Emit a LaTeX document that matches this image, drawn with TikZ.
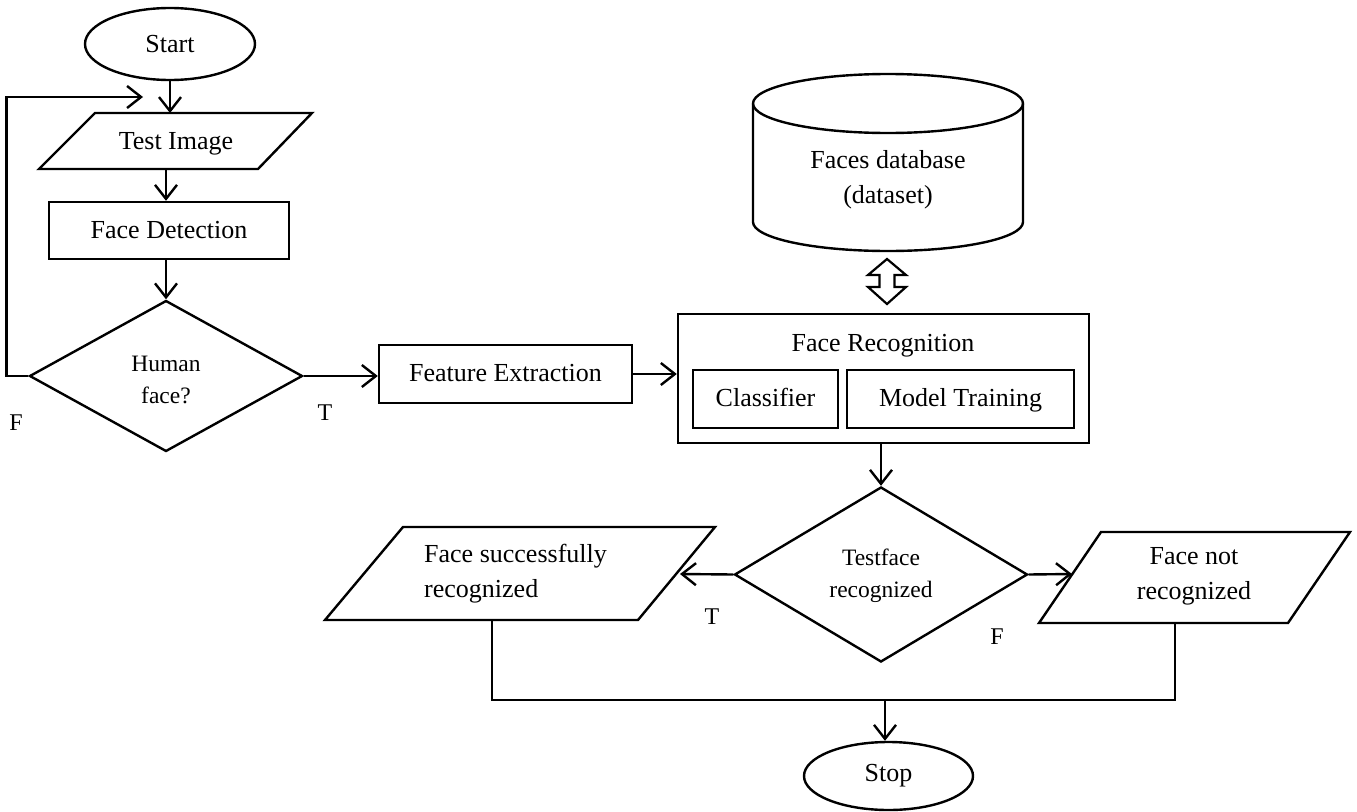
\documentclass[tikz,border=0pt]{standalone}
\usepackage{fontspec}
\setmainfont{Liberation Serif}
\usetikzlibrary{arrows.meta,shapes.geometric,calc}
\begin{document}
\begin{tikzpicture}[x=1pt,y=-1pt,line width=2.4pt,
  font=\fontsize{26}{35}\selectfont,
  >={Straight Barb[length=14pt,width=22pt]},
  box/.style={draw,rectangle,inner sep=0pt,align=center,text height=19.5pt,text depth=4.5pt},
  term/.style={draw,ellipse,inner sep=0pt},
  decision/.style={draw,diamond,inner sep=0pt,align=center,font=\fontsize{23.5}{31.5}\selectfont},
  lbl/.style={inner sep=0pt,font=\fontsize{24}{28}\selectfont},
  txt/.style={inner sep=0pt,align=center},
  flow/.style={->}]
\useasboundingbox (0,0) rectangle (1357,811);

% ---- left column ----
\node[term,minimum width=170pt,minimum height=72pt] (start) at (170,44) {Start};

\node[txt,text height=19.5pt,text depth=4.5pt] (ti) at (176,142) {Test Image};
\draw (95,113) -- (312,113) -- (258,169) -- (39,169) -- cycle;
\coordinate (tiN) at (170,113);
\coordinate (tiS) at (166,169);

\node[box,minimum width=240pt,minimum height=57pt] (fd) at (169,230.5) {Face Detection};

\node[decision,minimum width=273pt,minimum height=151pt] (hf) at (166,376) {};
\node[txt,font=\fontsize{23.5}{31.5}\selectfont] (hft) at (166,380) {Human\\face?};

\coordinate (loopend) at (143,97);

\draw[flow] (start.south) -- (tiN);
\draw[flow] (tiS) -- (tiS |- fd.north);
\draw[flow] (hf.north |- fd.south) -- (hf.north);
\draw[flow] (hf.west) -- ++(-22,0) |- (loopend);

\node[lbl] (lf1) at (16,423) {F};
\node[lbl] (lt1) at (325,413) {T};

% ---- feature extraction ----
\node[box,minimum width=253pt,minimum height=58pt] (fe) at (505.5,374) {Feature Extraction};
\draw[flow] (hf.east) -- (hf.east -| fe.west);

% ---- face recognition ----
\node[draw,rectangle,inner sep=0pt,minimum width=411pt,minimum height=129pt] (fr) at (883.5,378.5) {};
\node[txt,text height=19.5pt,text depth=4.5pt] (frt) at (883,344) {Face Recognition};
\node[box,minimum width=145pt,minimum height=58pt] (cls) at (765.5,399) {Classifier};
\node[box,minimum width=227pt,minimum height=58pt] (mt) at (960.5,399) {Model Training};
\draw[flow] (fe.east) -- (fe.east -| fr.west);

% ---- database ----
\node[txt] (db) at (888,180) {Faces database\\(dataset)};
\draw (753,103.5) -- (753,222) arc[start angle=180,end angle=360,x radius=135pt,y radius=29pt] -- (1023,103.5);
\draw (888,103.5) ellipse [x radius=135pt,y radius=29.5pt];

% hollow double arrow
\draw[line width=2.2pt] (887,259) -- (906,275) -- (894.5,275) -- (894.5,287) -- (906,287) -- (887,304)
  -- (868,287) -- (879.5,287) -- (879.5,275) -- (868,275) -- cycle;

% ---- testface decision ----
\node[decision,minimum width=293pt,minimum height=175pt] (tf) at (881,574.5) {};
\node[txt,font=\fontsize{23.5}{31.5}\selectfont] (tft) at (881,576) {Testface\\recognized};
\draw[flow] (tf.north |- fr.south) -- (tf.north);

\node[inner sep=0pt,anchor=west,align=left] (fsr) at (423,573.5) {Face successfully\\recognized};
\draw (403,527) -- (715,527) -- (638,620) -- (325,620) -- cycle;
\coordinate (fsrE) at (680,574);
\coordinate (fsrB) at (492,620);

\node[txt] (fnr) at (1194,576.5) {Face not\\recognized};
\draw (1101,532) -- (1350,532) -- (1288,623) -- (1039,623) -- cycle;
\coordinate (fnrW) at (1072,574);
\coordinate (fnrB) at (1175,623);

\draw[flow] (tf.west) -- (fsrE);
\draw[flow] (tf.east) -- (fnrW);

\node[lbl] (lt2) at (712,617) {T};
\node[lbl] (lf2) at (997,637) {F};

% ---- stop ----
\node[term,minimum width=169pt,minimum height=68pt] (stop) at (888.5,776) {Stop};
\coordinate (join) at (885,700);
\draw (fsrB) -- (fsrB |- join) -- (fnrB |- join) -- (fnrB);
\draw[flow] (join) -- (join |- stop.north);
\end{tikzpicture}
\end{document}
